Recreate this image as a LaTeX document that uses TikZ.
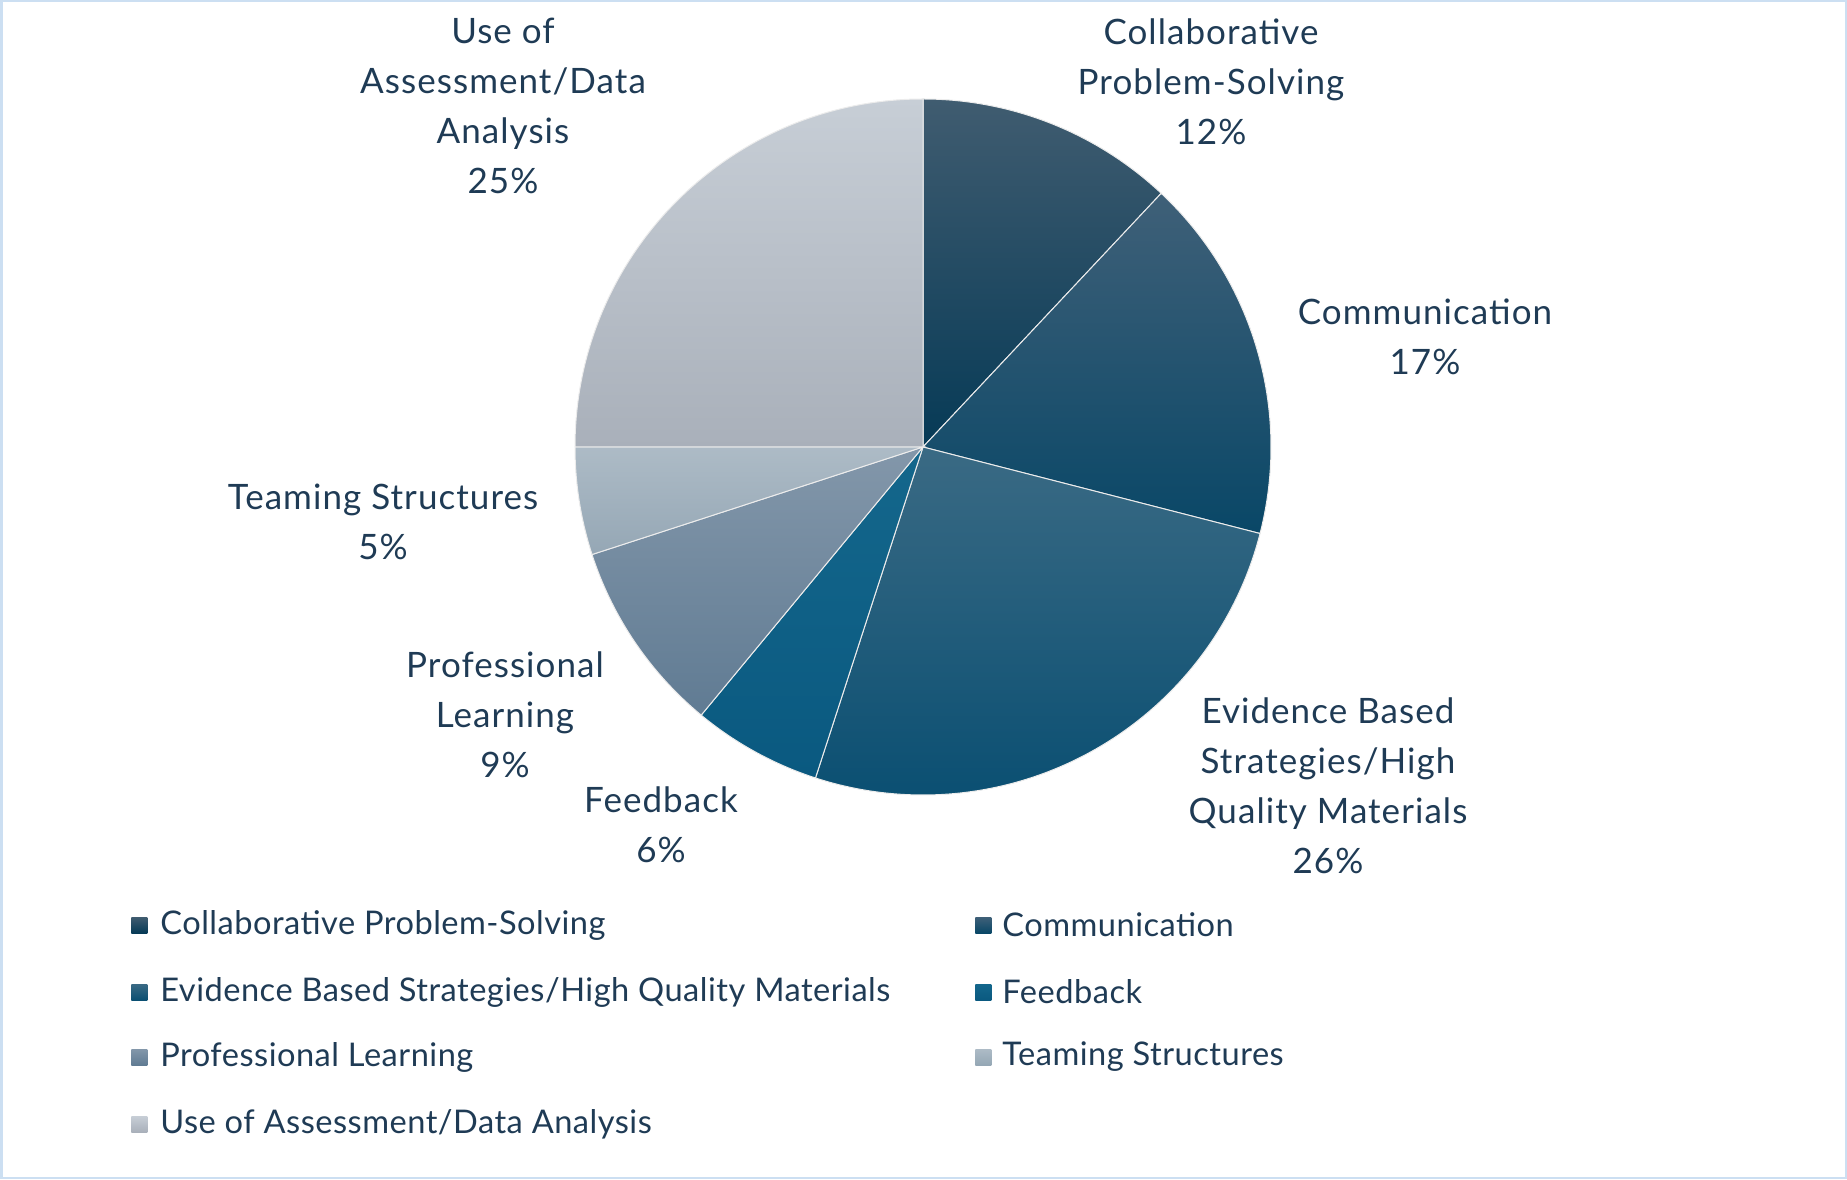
\documentclass[tikz,border=0pt]{standalone}
\usepackage{fontspec}
\setmainfont{Lato}
\newfontfamily\chartfont[LetterSpace=3]{Lato}
\newfontfamily\keyfont[LetterSpace=1.5]{Lato}

\definecolor{labelblue}{HTML}{1F3B55}
\definecolor{frameblue}{HTML}{CCDFF2}
\definecolor{collabtop}{HTML}{405C70}
\definecolor{collabbot}{HTML}{063A56}
\definecolor{commtop}{HTML}{3F6078}
\definecolor{commbot}{HTML}{094767}
\definecolor{evidtop}{HTML}{3A6A84}
\definecolor{evidbot}{HTML}{0A4F72}
\definecolor{feedtop}{HTML}{14678C}
\definecolor{feedbot}{HTML}{0A5980}
\definecolor{proftop}{HTML}{8397AA}
\definecolor{profbot}{HTML}{607B93}
\definecolor{teamtop}{HTML}{ADBBC6}
\definecolor{teambot}{HTML}{95A7B5}
\definecolor{usetop}{HTML}{C7CED6}
\definecolor{usebot}{HTML}{A9B0BA}

\begin{document}
\begin{tikzpicture}[x=0.5pt, y=0.5pt,
                    slice/.style = {draw = white!85!gray, line width = 0.5pt},
                    lbl/.style = {align = center, text = labelblue, inner sep = 0pt,
                                  font = \chartfont\fontsize{17.5}{25}\selectfont},
                    keybox/.style = {minimum size = 8pt, inner sep = 0pt, anchor = west},
                    keytext/.style = {anchor = west, inner sep = 0pt, text = labelblue,
                                      font = \keyfont\fontsize{16.3}{19}\selectfont}]

\useasboundingbox (0,0) rectangle (1847,1179);
\draw[frameblue, line width = 1.25pt] (1.25,1.25) rectangle (1845.75,1177.75);

\coordinate (C) at (923,732);

% slices, clockwise from the top
\path[slice, top color = collabtop, bottom color = collabbot]
  (C) -- ++(90:348) arc (90:46.8:348) -- cycle;
\path[slice, top color = commtop, bottom color = commbot]
  (C) -- ++(46.8:348) arc (46.8:-14.4:348) -- cycle;
\path[slice, top color = evidtop, bottom color = evidbot]
  (C) -- ++(-14.4:348) arc (-14.4:-108:348) -- cycle;
\path[slice, top color = feedtop, bottom color = feedbot]
  (C) -- ++(-108:348) arc (-108:-129.6:348) -- cycle;
\path[slice, top color = proftop, bottom color = profbot]
  (C) -- ++(-129.6:348) arc (-129.6:-162:348) -- cycle;
\path[slice, top color = teamtop, bottom color = teambot]
  (C) -- ++(-162:348) arc (-162:-180:348) -- cycle;
\path[slice, top color = usetop, bottom color = usebot]
  (C) -- ++(180:348) arc (180:90:348) -- cycle;

% data labels
\node[lbl] (Luse) at (503,1073) {Use of\\Assessment/Data\\Analysis\\25\%};
\node[lbl] (Lcollab) at (1211,1097) {Collaborative\\Problem-Solving\\12\%};
\node[lbl] (Lcomm) at (1425,842) {Communication\\17\%};
\node[lbl] (Levid) at (1328,393) {Evidence Based\\Strategies/High\\Quality Materials\\26\%};
\node[lbl] (Lfeed) at (661,354) {Feedback\\6\%};
\node[lbl] (Lprof) at (505,464) {Professional\\Learning\\9\%};
\node[lbl] (Lteam) at (383,657) {Teaming Structures\\5\%};

% legend
\node[keybox, top color = collabtop, bottom color = collabbot] (K1) at (131,254) {};
\node[keytext] (T1) at (160,254) {Collaborative Problem-Solving};
\node[keybox, top color = commtop, bottom color = commbot] (K2) at (975,254) {};
\node[keytext] (T2) at (1002,254) {Communication};
\node[keybox, top color = evidtop, bottom color = evidbot] (K3) at (131,187) {};
\node[keytext] (T3) at (160,187) {Evidence Based Strategies/High Quality Materials};
\node[keybox, top color = feedtop, bottom color = feedbot] (K4) at (975,187) {};
\node[keytext] (T4) at (1002,187) {Feedback};
\node[keybox, top color = proftop, bottom color = profbot] (K5) at (131,122) {};
\node[keytext] (T5) at (160,122) {Professional Learning};
\node[keybox, top color = teamtop, bottom color = teambot] (K6) at (975,122) {};
\node[keytext] (T6) at (1002,122) {Teaming Structures};
\node[keybox, top color = usetop, bottom color = usebot] (K7) at (131,55) {};
\node[keytext] (T7) at (160,55) {Use of Assessment/Data Analysis};

\end{tikzpicture}
\end{document}
